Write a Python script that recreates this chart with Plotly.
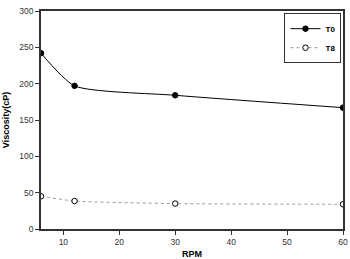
import plotly.graph_objects as go

rpm = [6, 12, 30, 60]
t0 = [242, 197, 184, 167]
t8 = [45, 38.5, 35, 34]

fig = go.Figure()
fig.add_trace(go.Scatter(x=rpm, y=t0, name="<b>T0</b>", mode="lines+markers",
                         line=dict(color="black", width=1, shape="spline", smoothing=0.6),
                         marker=dict(symbol="circle", size=5.5, color="black", line=dict(color="black", width=1))))
fig.add_trace(go.Scatter(x=rpm, y=t8, name="<b>T8</b>", mode="lines+markers",
                         line=dict(color="#999999", width=1, dash="dot", shape="spline", smoothing=0.6),
                         marker=dict(symbol="circle", size=5.5, color="white", line=dict(color="black", width=1))))

axis_common = dict(showgrid=False, zeroline=False, showline=True, linecolor="#333333", linewidth=1.5,
                   mirror=True, ticks="outside", ticklen=4, tickcolor="#333333", automargin=False,
                   tickfont=dict(family="Liberation Sans, Arial", size=8.5, color="#333333"))
fig.update_xaxes(range=[6, 60], tickvals=[10, 20, 30, 40, 50, 60],
                 title=dict(text="<b>RPM</b>", font=dict(family="Liberation Sans, Arial", size=9, color="black"), standoff=26),
                 **axis_common)
fig.update_yaxes(range=[0, 300], tickvals=[0, 50, 100, 150, 200, 250, 300],
                 title=dict(text="<b>Viscosity(cP)</b>", font=dict(family="Liberation Sans, Arial", size=9, color="black"), standoff=8),
                 **axis_common)
fig.update_layout(width=350, height=259, margin=dict(l=41, r=7, t=11, b=30),
                  plot_bgcolor="white", paper_bgcolor="white",
                  legend=dict(x=0.995, y=0.99, xanchor="right", yanchor="top", bgcolor="white",
                              bordercolor="#333333", borderwidth=1,
                              font=dict(family="Liberation Sans, Arial", size=8, color="black"),
                              itemwidth=30, tracegroupgap=0))
fig.write_html("out.html")
